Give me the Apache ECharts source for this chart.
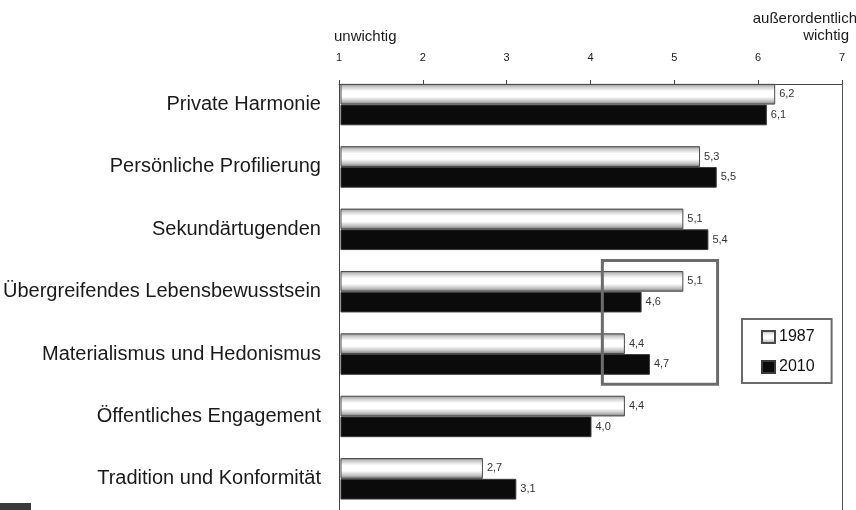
<!DOCTYPE html>
<html>
<head>
<meta charset="utf-8">
<script src="https://cdn.jsdelivr.net/npm/echarts@6/dist/echarts.min.js"></script>
<style>
  html, body { margin: 0; padding: 0; background: #fff; }
  #chart { width: 856px; height: 510px; }
</style>
</head>
<body>
<div id="chart"></div>
<script>
// Werte (Skala 1 = unwichtig … 7 = außerordentlich wichtig)
const categories = [
  'Private Harmonie',
  'Persönliche Profilierung',
  'Sekundärtugenden',
  'Übergreifendes Lebensbewusstsein',
  'Materialismus und Hedonismus',
  'Öffentliches Engagement',
  'Tradition und Konformität'
];
const values1987 = [6.2, 5.3, 5.1, 5.1, 4.4, 4.4, 2.7];
const values2010 = [6.1, 5.5, 5.4, 4.6, 4.7, 4.0, 3.1];
const scaleTicks = [1, 2, 3, 4, 5, 6, 7];
const seriesNames = ['1987', '2010'];
// hervorgehobener Bereich: Wertebereich und betroffene Kategorien
const highlightRange = [4.13, 5.51];
const highlightCats = [3, 4];

const FONT = '"Liberation Sans", Arial, Helvetica, sans-serif';
const chart = echarts.init(document.getElementById('chart'), null, { renderer: 'canvas' });

const whiteBar = {
  type: 'linear', x: 0, y: 0, x2: 0, y2: 1,
  colorStops: [
    { offset: 0, color: '#7a7a7a' },
    { offset: 0.12, color: '#c4c4c4' },
    { offset: 0.35, color: '#ffffff' },
    { offset: 0.62, color: '#ffffff' },
    { offset: 0.85, color: '#bdbdbd' },
    { offset: 1, color: '#6e6e6e' }
  ]
};

const fmt = p => p.value.toFixed(1).replace('.', ',');
const valueLabel = {
  show: true, position: 'right', distance: 4,
  fontFamily: FONT, fontSize: 11, color: '#333', formatter: fmt
};

const GRID_TOP = 73.4;
const GRID_H = 442.4;

const option = {
  backgroundColor: '#fff',
  animation: false,
  textStyle: { fontFamily: FONT },
  grid: [
    // Balkenfläche
    { left: 339, right: 14, top: GRID_TOP, height: GRID_H, containLabel: false },
    // Rahmen mit Skala oben
    { left: 339, right: 14, top: 84, bottom: -40, containLabel: false }
  ],
  legend: {
    data: seriesNames,
    orient: 'vertical',
    left: 742, top: 319,
    padding: [10, 17, 8, 19],
    itemGap: 14,
    itemWidth: 13, itemHeight: 12,
    borderColor: '#6a6a6a', borderWidth: 2,
    textStyle: { fontFamily: FONT, fontSize: 16, color: '#111', padding: [0, 0, 0, -1] },
    icon: 'rect'
  },
  xAxis: [
    {
      gridIndex: 0, type: 'value', min: 1, max: 7, interval: 1,
      show: false,
      axisLine: { show: false }, axisTick: { show: false },
      axisLabel: { show: false }, splitLine: { show: false }
    },
    {
      gridIndex: 1, type: 'value', position: 'top', min: 1, max: 7, interval: 1,
      axisLine: { show: true, onZero: false, lineStyle: { color: '#444', width: 1 } },
      axisTick: { show: true, length: 4, lineStyle: { color: '#444' } },
      axisLabel: {
        show: true, fontFamily: FONT, fontSize: 11, color: '#222', margin: 21,
        formatter: v => scaleTicks.includes(v) ? String(v) : ''
      },
      splitLine: { show: false }
    }
  ],
  yAxis: [
    {
      gridIndex: 0, type: 'category', data: categories, inverse: true,
      axisLine: { show: false }, axisTick: { show: false },
      axisLabel: { fontFamily: FONT, fontSize: 20, color: '#1a1a1a', margin: 20 }
    },
    {
      gridIndex: 1, type: 'value', position: 'left', min: 0, max: 1,
      axisLine: { show: true, onZero: false, lineStyle: { color: '#444', width: 1 } },
      axisTick: { show: false }, axisLabel: { show: false }, splitLine: { show: false }
    },
    {
      gridIndex: 1, type: 'value', position: 'right', min: 0, max: 1,
      axisLine: { show: true, onZero: false, lineStyle: { color: '#555', width: 1 } },
      axisTick: { show: false }, axisLabel: { show: false }, splitLine: { show: false }
    }
  ],
  series: [
    {
      name: seriesNames[0], type: 'bar', xAxisIndex: 0, yAxisIndex: 0,
      data: values1987, barGap: '0%', barCategoryGap: '33.5%',
      clip: true,
      itemStyle: { color: whiteBar, borderColor: '#4a4a4a', borderWidth: 1 },
      label: valueLabel
    },
    {
      name: seriesNames[1], type: 'bar', xAxisIndex: 0, yAxisIndex: 0,
      data: values2010, barGap: '0%', barCategoryGap: '33.5%',
      clip: true,
      itemStyle: { color: '#0b0b0b', borderColor: '#3a3a3a', borderWidth: 1 },
      label: valueLabel
    }
  ]
};

chart.setOption(option);

// Skalenbeschriftung und Hervorhebungsrahmen über die Achsen platzieren
const p1 = chart.convertToPixel({ xAxisIndex: 0 }, scaleTicks[0]);
const p7 = chart.convertToPixel({ xAxisIndex: 0 }, scaleTicks[scaleTicks.length - 1]);
const hx0 = chart.convertToPixel({ xAxisIndex: 0 }, highlightRange[0]);
const hx1 = chart.convertToPixel({ xAxisIndex: 0 }, highlightRange[1]);
const cTop = chart.convertToPixel({ yAxisIndex: 0 }, highlightCats[0]);
const cBot = chart.convertToPixel({ yAxisIndex: 0 }, highlightCats[1]);
const band = GRID_H / categories.length;

chart.setOption({
  graphic: [
    {
      type: 'text', left: p1 - 7, top: 29,
      style: { text: 'unwichtig', font: '15px ' + FONT, fill: '#1a1a1a' }
    },
    {
      type: 'text', right: 856 - p7 - 15, top: 11,
      style: { text: 'außerordentlich', font: '15px ' + FONT, fill: '#1a1a1a' }
    },
    {
      type: 'text', right: 856 - p7 - 7, top: 28,
      style: { text: 'wichtig', font: '15px ' + FONT, fill: '#1a1a1a' }
    },
    {
      type: 'rect',
      shape: {
        x: hx0, y: cTop - band / 2 + 0.5,
        width: hx1 - hx0, height: (cBot - cTop) + band - 2
      },
      style: { fill: 'none', stroke: '#6b6b6b', lineWidth: 3 },
      z: 20
    },
    {
      type: 'rect', shape: { x: 0, y: 503, width: 31, height: 8 },
      style: { fill: '#3a3a3a' }
    }
  ]
});
</script>
</body>
</html>
